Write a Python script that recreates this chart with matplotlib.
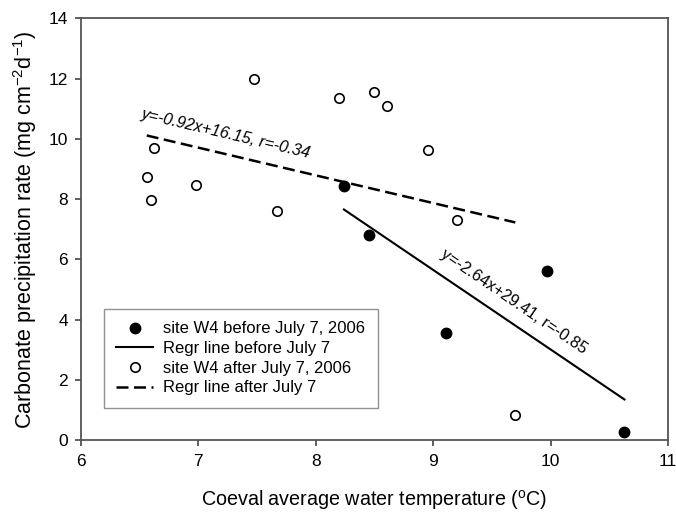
import matplotlib
matplotlib.use("Agg")
import matplotlib.pyplot as plt
import numpy as np

plt.rcParams['font.family'] = ['Liberation Sans', 'DejaVu Sans']
plt.rcParams['mathtext.fontset'] = 'custom'
plt.rcParams['mathtext.rm'] = 'Liberation Sans'
plt.rcParams['mathtext.it'] = 'Liberation Sans:italic'

# Data
before_x = [8.24, 8.45, 9.11, 9.97, 10.63]
before_y = [8.42, 6.82, 3.55, 5.61, 0.28]
after_x = [6.56, 6.60, 6.62, 6.98, 7.47, 7.67, 8.20, 8.50, 8.61, 8.96, 9.20, 9.70]
after_y = [8.72, 7.98, 9.70, 8.48, 11.98, 7.60, 11.35, 11.55, 11.10, 9.62, 7.32, 0.82]

# Regression lines (slope, intercept, x-range)
before_fit = (-2.64, 29.41)
before_range = [8.24, 10.63]
after_fit = (-0.92, 16.15)
after_range = [6.56, 9.70]

xticks = [6, 7, 8, 9, 10, 11]
yticks = [0, 2, 4, 6, 8, 10, 12, 14]

fig = plt.figure(figsize=(6.76, 5.12), dpi=100)
ax = fig.add_axes([0.1198, 0.1406, 0.8682, 0.8233])

ax.plot(before_x, before_y, 'o', color='black', markersize=7.5, label='site W4 before July 7, 2006', zorder=3)
bx = np.array(before_range)
ax.plot(bx, before_fit[0] * bx + before_fit[1], '-', color='black', lw=1.5, label='Regr line before July 7')
ax.plot(after_x, after_y, 'o', markerfacecolor='white', markeredgecolor='black', markeredgewidth=1.2,
        markersize=6.8, label='site W4 after July 7, 2006', zorder=3)
axx = np.array(after_range)
ax.plot(axx, after_fit[0] * axx + after_fit[1], '--', color='black', lw=1.8, dashes=(4.8, 2.2),
        label='Regr line after July 7')

ax.text(6.51, 10.70, 'y=-0.92x+16.15, r=-0.34', rotation=-13.3, fontsize=11.7, style='italic',
        ha='left', va='baseline', rotation_mode='anchor')
ax.text(9.06, 6.08, 'y=-2.64x+29.41, r=-0.85', rotation=-34.3, fontsize=11.6,
        ha='left', va='baseline', rotation_mode='anchor')

ax.set_xlim(6, 11)
ax.set_ylim(0, 14)
ax.set_xticks(xticks)
ax.set_yticks(yticks)
ax.tick_params(direction='out', length=4.5, width=1.2, labelsize=12.5, color='#444444', top=False, right=False)
ax.tick_params(axis='x', pad=5.5)
ax.tick_params(axis='y', pad=5)
for s in ax.spines.values():
    s.set_color('#555555')
    s.set_linewidth(1.3)

ax.set_xlabel('Coeval average water temperature ($^{\\mathrm{o}}$C)', fontsize=14.2, labelpad=14)
ax.set_ylabel('Carbonate precipitation rate (mg cm$^{-2}$d$^{-1}$)', fontsize=15.5, labelpad=6.5)

leg = ax.legend(loc='lower left', bbox_to_anchor=(0.039, 0.076), borderaxespad=0, fontsize=12,
                frameon=True, fancybox=False, edgecolor='#777777', borderpad=0.75, labelspacing=0.28,
                handlelength=2.2, handletextpad=0.6)
leg.get_frame().set_linewidth(1.0)

fig.savefig('out.png', dpi=100)
